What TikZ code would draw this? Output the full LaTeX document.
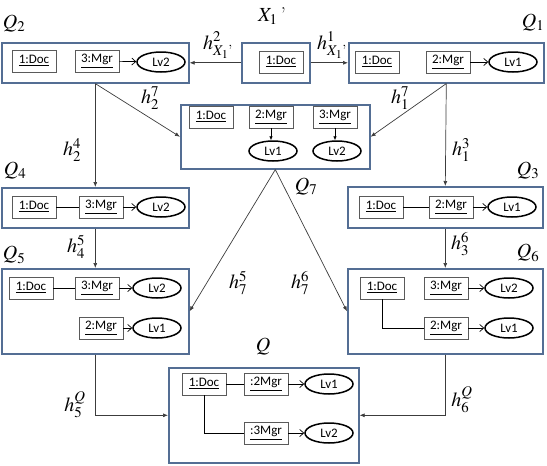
\documentclass[tikz,border=0pt]{standalone}
\usepackage{amsmath}
\usepackage{mathptmx}
\usepackage{fontspec}
\setsansfont{Carlito}
\usepackage{tikz}
\usetikzlibrary{shapes.geometric,arrows.meta,positioning}
\definecolor{boxblue}{RGB}{84,110,148}
\definecolor{objgray}{RGB}{90,90,90}
\definecolor{linegray}{RGB}{60,60,60}

\tikzset{
  query/.style={draw=boxblue, line width=1.6pt, anchor=north west, inner sep=0pt},
  obj/.style={draw=objgray, line width=0.9pt, minimum width=44pt, minimum height=22pt,
    inner sep=2pt, font=\sffamily\fontsize{13}{15}\selectfont},
  lv/.style={ellipse, draw, line width=1.5pt, minimum width=48pt, minimum height=20pt,
    inner sep=0pt, font=\sffamily\fontsize{13}{15}\selectfont},
  hom/.style={draw=linegray, line width=0.7pt, -{Latex[length=5pt,width=4pt]}},
  lnk/.style={line width=0.7pt, -{Straight Barb[length=4pt,width=7pt]}},
  sub/.style={line width=0.7pt, -{Latex[length=4pt,width=3.5pt]}},
  lbl/.style={font=\fontsize{20}{22}\selectfont, inner sep=0pt},
}

\begin{document}
\begin{tikzpicture}[x=1pt,y=-1pt]
\useasboundingbox (0,0) rectangle (547,466);

% query boxes
\node[query, minimum width=187pt, minimum height=40pt] (q2) at (1,42) {};
\node[query, minimum width=68pt, minimum height=40pt] (x1) at (241,42) {};
\node[query, minimum width=195pt, minimum height=40pt] (q1) at (348,42) {};
\node[query, minimum width=189pt, minimum height=64pt] (q7) at (180,104) {};
\node[query, minimum width=187pt, minimum height=40pt] (q4) at (1,187) {};
\node[query, minimum width=195pt, minimum height=41pt] (q3) at (347,186) {};
\node[query, minimum width=187pt, minimum height=85pt] (q5) at (1,268) {};
\node[query, minimum width=195pt, minimum height=85pt] (q6) at (347,268) {};
\node[query, minimum width=190pt, minimum height=95pt] (q) at (168,367) {};

% Q2
\node[obj] (q2doc) at (34,61) {\underline{1:Doc}};
\node[obj] (q2mgr) at (97,61) {\underline{3:Mgr}};
\node[lv] (q2lv) at (161,62) {Lv2};
\draw[lnk] (q2mgr) -- (q2lv);

% X1'
\node[obj] (x1doc) at (281,62) {\underline{1:Doc}};

% Q1
\node[obj] (q1doc) at (377,62) {\underline{1:Doc}};
\node[obj] (q1mgr) at (448,62) {\underline{2:Mgr}};
\node[lv] (q1lv) at (513,62) {Lv1};
\draw[lnk] (q1mgr) -- (q1lv);

% Q7
\node[obj] (q7doc) at (211,117) {\underline{1:Doc}};
\node[obj] (q7mgra) at (271,117) {\underline{2:Mgr}};
\node[obj] (q7mgrb) at (335,117) {\underline{3:Mgr}};
\node[lv] (q7lva) at (273,151) {Lv1};
\node[lv] (q7lvb) at (337,151) {Lv2};
\draw[sub] (q7mgra) -- (q7mgra |- q7lva.north);
\draw[sub] (q7mgrb) -- (q7mgrb |- q7lvb.north);

% Q4
\node[obj] (q4doc) at (34,207) {\underline{1:Doc}};
\node[obj] (q4mgr) at (101,207) {\underline{3:Mgr}};
\node[lv] (q4lv) at (161,207) {Lv2};
\draw[line width=0.7pt] (q4doc) -- (q4mgr);
\draw[lnk] (q4mgr) -- (q4lv);

% Q3
\node[obj] (q3doc) at (381,207) {\underline{1:Doc}};
\node[obj] (q3mgr) at (451,207) {\underline{2:Mgr}};
\node[lv] (q3lv) at (512,207) {Lv1};
\draw[line width=0.7pt] (q3doc) -- (q3mgr);
\draw[lnk] (q3mgr) -- (q3lv);

% Q5
\node[obj] (q5doc) at (31,288) {\underline{1:Doc}};
\node[obj] (q5mgrb) at (97,288) {\underline{3:Mgr}};
\node[lv] (q5lvb) at (157,288) {Lv2};
\node[obj] (q5mgra) at (101,328) {\underline{2:Mgr}};
\node[lv] (q5lva) at (157,328) {Lv1};
\draw[line width=0.7pt] (q5doc) -- (q5mgrb);
\draw[lnk] (q5mgrb) -- (q5lvb);
\draw[lnk] (q5mgra) -- (q5lva);

% Q6
\node[obj] (q6doc) at (382,288) {\underline{1:Doc}};
\node[obj] (q6mgrb) at (446,288) {\underline{3:Mgr}};
\node[lv] (q6lvb) at (509,288) {Lv2};
\node[obj] (q6mgra) at (446,328) {\underline{2:Mgr}};
\node[lv] (q6lva) at (509,328) {Lv1};
\draw[lnk] (q6mgrb) -- (q6lvb);
\draw[line width=0.7pt] (q6doc) |- (q6mgra);
\draw[lnk] (q6mgra) -- (q6lva);

% Q
\node[obj] (qdoc) at (204,384) {\underline{1:Doc}};
\node[obj] (qmgra) at (266,384) {\underline{:2Mgr}};
\node[lv] (qlva) at (329,384) {Lv1};
\node[obj] (qmgrb) at (266,433) {\underline{:3Mgr}};
\node[lv] (qlvb) at (329,433) {Lv2};
\draw[line width=0.7pt] (qdoc) -- (qmgra);
\draw[lnk] (qmgra) -- (qlva);
\draw[line width=0.7pt] (qdoc) |- (qmgrb);
\draw[lnk] (qmgrb) -- (qlvb);

% homomorphisms
\draw[hom] (x1.west) -- (q2.east);
\draw[hom] (x1.east) -- (q1.west);
\draw[hom] (q2.south) -- (q4.north);
\draw[hom] (q2.south) -- (q7.west);
\draw[hom] (q1.south) -- (q7.east);
\draw[hom] (q1.south) -- (q3.north);
\draw[hom] (q4.south) -- (q5.north);
\draw[hom] (q3.south) -- (q6.north);
\draw[hom] (q7.south) -- (q5.east);
\draw[hom] (q7.south) -- (q6.west);
\draw[hom] (q5.south) |- (q.west);
\draw[hom] (q6.south) |- (q.east);

% labels
\node[lbl] (lx1) at (272,16) {$X_1$\,'};
\node[lbl] (lq2) at (14,24) {$Q_2$};
\node[lbl] (lq1) at (533,23) {$Q_1$};
\node[lbl] (lq4) at (15,171) {$Q_4$};
\node[lbl] (lq3) at (528,171) {$Q_3$};
\node[lbl] (lq5) at (14,255) {$Q_5$};
\node[lbl] (lq6) at (528,253) {$Q_6$};
\node[lbl] (lq7) at (306,187) {$Q_7$};
\node[lbl] (lq) at (263,347) {$Q$};
\node[lbl] (hx2) at (218,45) {$h^2_{X_1\text{'}}$};
\node[lbl] (hx1) at (332,45) {$h^1_{X_1\text{'}}$};
\node[lbl] (h27) at (150,98) {$h^7_2$};
\node[lbl] (h17) at (400,98) {$h^7_1$};
\node[lbl] (h24) at (72,150) {$h^4_2$};
\node[lbl] (h13) at (461,150) {$h^3_1$};
\node[lbl] (h45) at (76,247) {$h^5_4$};
\node[lbl] (h36) at (460,244) {$h^6_3$};
\node[lbl] (h75) at (238,283) {$h^5_7$};
\node[lbl] (h76) at (300,283) {$h^6_7$};
\node[lbl] (h5q) at (75,405) {$h^Q_5$};
\node[lbl] (h6q) at (462,400) {$h^Q_6$};
\end{tikzpicture}
\end{document}
